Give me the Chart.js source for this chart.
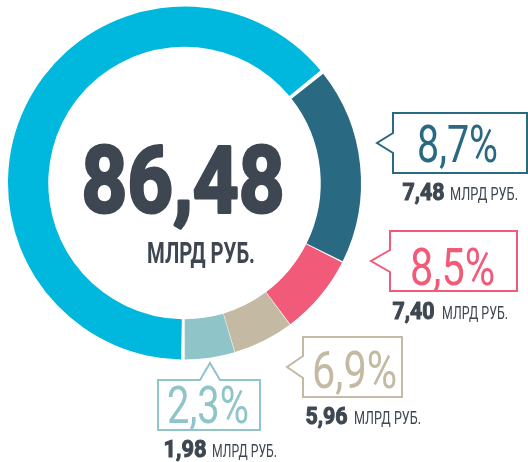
<!DOCTYPE html>
<html>
<head>
<meta charset="utf-8">
<script src="https://cdn.jsdelivr.net/npm/chart.js@4/dist/chart.umd.min.js"></script>
<style>
  html, body { margin: 0; padding: 0; background: #fff; }
  canvas { display: block; }
</style>
</head>
<body>
<canvas id="ring" width="528" height="462"></canvas>
<script>
// share of the ring for each segment, as drawn in the picture (clockwise from 6 o'clock)
const arcShares = [64.3, 18.1, 7.4, 5.6, 4.6];
const ringColors = ["#00B7DE", "#296982", "#F15A78", "#C4B9A3", "#8FC4C8"];

// labelled segments (dark blue, pink, beige, teal)
const sharePct = [8.7, 8.5, 6.9, 2.3];
const amounts = [7.48, 7.40, 5.96, 1.98];
const total = 86.48;
const unit = "МЛРД РУБ.";

const textColor = "#3E4751";

function fmt(v, digits) {
  return v.toFixed(digits).replace(".", ",");
}

// callout boxes: box rect, pointer side + tip, text spots
const callouts = [
  { box: [393, 113, 527, 173], side: "left", tip: [377, 143], half: 10,
    pct: [417, 162, 81], amt: [402, 200, 43], unitPos: [450, 200, 68] },
  { box: [390, 231, 517, 291], side: "left", tip: [371, 261], half: 11,
    pct: [410, 285, 85], amt: [392, 319, 43], unitPos: [442, 319, 66] },
  { box: [303, 337, 402, 397], side: "left", tip: [287, 367], half: 11,
    pct: [312, 388, 85], amt: [305, 424, 43], unitPos: [354, 424, 67] },
  { box: [158, 380, 260, 430], side: "top", tip: [210, 363], half: 10,
    pct: [167, 423, 82], amt: [163, 457, 44], unitPos: [212, 457, 65] },
];

// text squeezed to a given width; "heavy" adds an outline to thicken strokes
function drawFit(ctx, text, x, baseline, width, size, weight, color, heavy) {
  ctx.save();
  ctx.font = weight + " " + size + "px Roboto";
  const w = ctx.measureText(text).width;
  const pad = heavy || 0;
  ctx.translate(x + pad / 2, baseline - pad / 2);
  ctx.scale((width - pad) / w, 1);
  ctx.fillStyle = color;
  ctx.textBaseline = "alphabetic";
  ctx.fillText(text, 0, 0);
  if (heavy) {
    ctx.strokeStyle = color;
    ctx.lineWidth = heavy;
    ctx.lineJoin = "round";
    ctx.strokeText(text, 0, 0);
  }
  ctx.restore();
}

function drawBox(ctx, c, color) {
  const [l, t, r, b] = c.box;
  const [tx, ty] = c.tip;
  ctx.save();
  ctx.strokeStyle = color;
  ctx.lineWidth = 2;
  ctx.lineJoin = "miter";
  ctx.beginPath();
  if (c.side === "left") {
    ctx.moveTo(l, t);
    ctx.lineTo(r, t);
    ctx.lineTo(r, b);
    ctx.lineTo(l, b);
    ctx.lineTo(l, ty + c.half);
    ctx.lineTo(tx, ty);
    ctx.lineTo(l, ty - c.half);
  } else {
    ctx.moveTo(l, t);
    ctx.lineTo(tx - c.half, t);
    ctx.lineTo(tx, ty);
    ctx.lineTo(tx + c.half, t);
    ctx.lineTo(r, t);
    ctx.lineTo(r, b);
    ctx.lineTo(l, b);
  }
  ctx.closePath();
  ctx.stroke();
  ctx.restore();
}

const labelsPlugin = {
  id: "labels",
  afterDraw(chart) {
    const ctx = chart.ctx;
    // centre total
    drawFit(ctx, fmt(total, 2), 80, 213, 206, 92, 700, textColor, 3);
    drawFit(ctx, unit, 147, 263, 108, 29, 700, textColor);

    callouts.forEach(function (c, i) {
      const color = ringColors[i + 1];
      drawBox(ctx, c, color);
      drawFit(ctx, fmt(sharePct[i], 1) + "%", c.pct[0], c.pct[1], c.pct[2], 52, 400, color);
      drawFit(ctx, fmt(amounts[i], 2), c.amt[0], c.amt[1], c.amt[2], 23, 700, textColor, 1);
      drawFit(ctx, unit, c.unitPos[0], c.unitPos[1], c.unitPos[2], 18, 400, textColor);
    });
  },
};

const ctx = document.getElementById("ring").getContext("2d");

new Chart(ctx, {
  type: "doughnut",
  data: {
    labels: ["", "", "", "", ""],
    datasets: [
      {
        data: arcShares,
        backgroundColor: ringColors,
        borderWidth: 0,
        spacing: 3,
      },
    ],
  },
  options: {
    responsive: false,
    animation: false,
    rotation: 180,
    radius: 175,
    cutout: "77%",
    layout: { padding: { left: 0, top: 0, right: 159, bottom: 96 } },
    plugins: {
      legend: { display: false },
      tooltip: { enabled: false },
    },
    events: [],
  },
  plugins: [labelsPlugin],
});
</script>
</body>
</html>
